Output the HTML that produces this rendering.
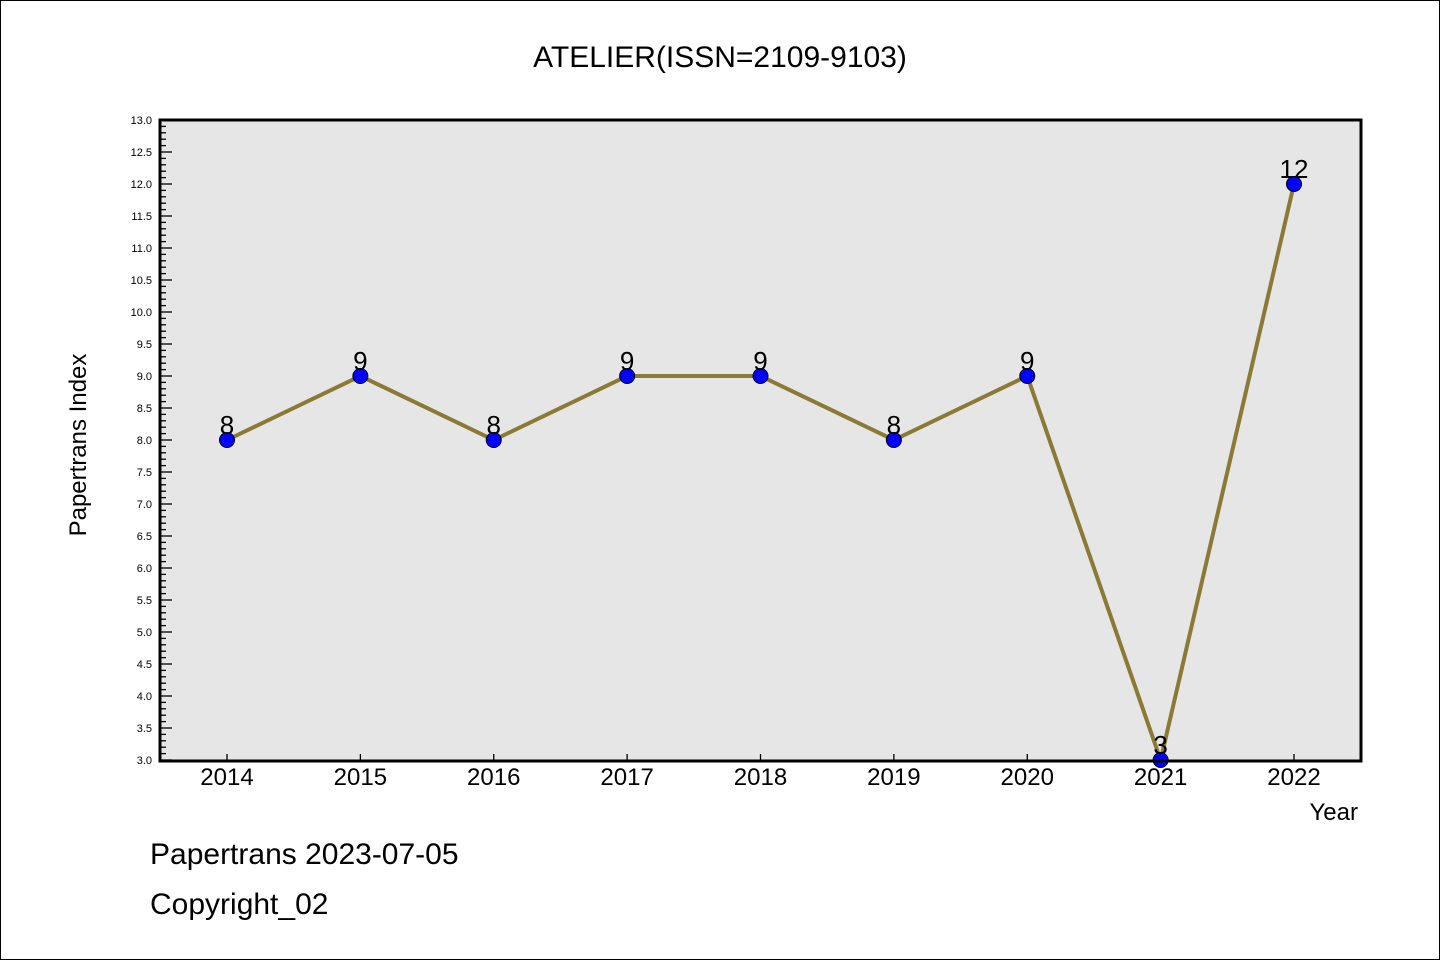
<!DOCTYPE html>
<html><head><meta charset="utf-8"><style>
body{margin:0;background:#fff;}
svg text{font-family:"Liberation Sans","WenQuanYi Zen Hei",sans-serif;}
</style></head><body>
<svg id="chart" width="1440" height="960" xmlns="http://www.w3.org/2000/svg">
<rect x="0.5" y="0.5" width="1439" height="959" fill="#fff" stroke="#000"/>
<text x="720" y="67" font-size="30" text-anchor="middle">ATELIER(ISSN=2109-9103)</text>
<rect x="160" y="120" width="1201" height="641" fill="#e6e6e6"/>
<g id="yaxis"></g>
<g id="xaxis"></g>
<g id="series"></g>
<rect x="160" y="120" width="1201" height="641" fill="none" stroke="#000" stroke-width="3"/>
<text x="86" y="445" font-size="24" text-anchor="middle" transform="rotate(-90 86 445)">Papertrans Index</text>
<text x="1358" y="820" font-size="24" text-anchor="end">Year</text>
<text x="150" y="864" font-size="30">Papertrans 2023-07-05</text>
<text x="150" y="914" font-size="30">Copyright_02</text>
</svg>
<script>
const years=["2014","2015","2016","2017","2018","2019","2020","2021","2022"];
const values=[8,9,8,9,9,8,9,3,12];
const yMin=3,yMax=13;
const NS="http://www.w3.org/2000/svg";
function X(i){return 227+i*(1294-227)/(years.length-1);}
function Y(v){return 760-(v-yMin)*(640/(yMax-yMin));}
function mk(t,a,p){const e=document.createElementNS(NS,t);for(const k in a)e.setAttribute(k,a[k]);p.appendChild(e);return e;}
const ya=document.getElementById('yaxis');
for(let k=0;k<=100;k++){const v=yMin+k*0.1;const y=Y(v);const major=k%5===0;
 const l=mk('line',{x1:160,x2:major?172:166,y1:y,y2:y,stroke:'#000','stroke-width':1.3},ya);
 
 
 if(major){const t=mk('text',{x:152,y:y+4,'font-size':11,'text-anchor':'end'},ya);t.textContent=v.toFixed(1);
 
 }}
const xa=document.getElementById('xaxis');
years.forEach((yr,i)=>{const x=X(i);
 const l=mk('line',{x1:x,x2:x,y1:761,y2:754,stroke:'#000','stroke-width':1.3},xa);
 
 
 const t=mk('text',{x:x,y:785,'font-size':24,'text-anchor':'middle'},xa);t.textContent=yr;
 
 });
const s=document.getElementById('series');
const pl=mk('polyline',{points:values.map((v,i)=>X(i)+','+Y(v)).join(' '),fill:'none',stroke:'#8b7a35','stroke-width':4},s);


values.forEach((v,i)=>{
 const c=mk('circle',{cx:X(i),cy:Y(v),r:7.5,fill:'#0000ff',stroke:'#000','stroke-width':1},s);
 
 
 const t=mk('text',{x:X(i),y:Y(v)-6,'font-size':26,'text-anchor':'middle'},s);t.textContent=v;
 
 });
</script>
</body></html>
